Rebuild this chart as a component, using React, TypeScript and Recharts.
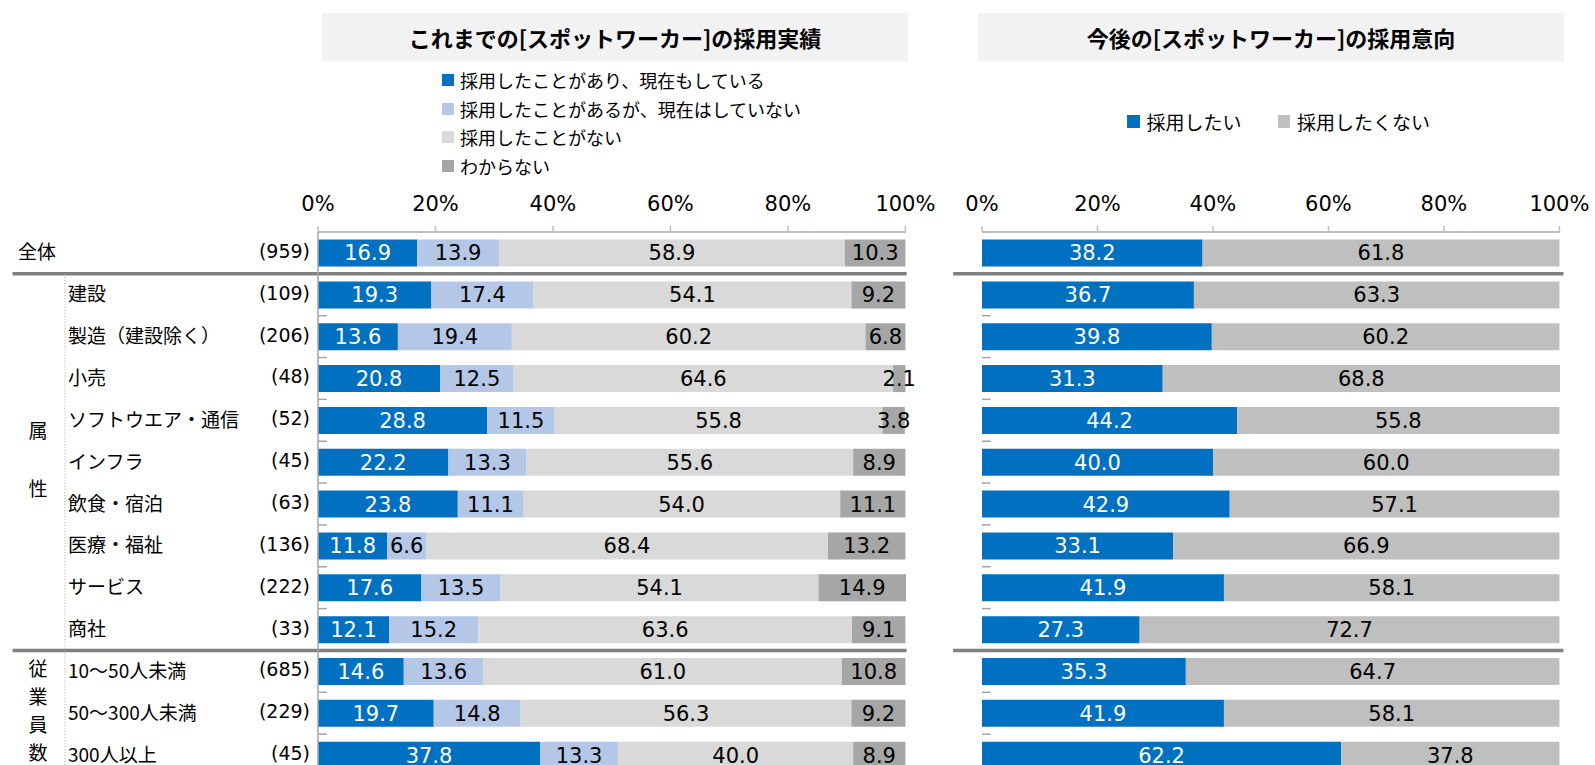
import React from 'react';
import { BarChart, Bar, XAxis, YAxis, LabelList, Legend, ReferenceLine } from 'recharts';

const categories = [
  '全体',
  '建設',
  '製造（建設除く）',
  '小売',
  'ソフトウエア・通信',
  'インフラ',
  '飲食・宿泊',
  '医療・福祉',
  'サービス',
  '商社',
  '10～50人未満',
  '50～300人未満',
  '300人以上',
];
const sampleSizes = [959, 109, 206, 48, 52, 45, 63, 136, 222, 33, 685, 229, 45];

// これまでの採用実績
const hiredNow = [16.9, 19.3, 13.6, 20.8, 28.8, 22.2, 23.8, 11.8, 17.6, 12.1, 14.6, 19.7, 37.8];
const hiredBefore = [13.9, 17.4, 19.4, 12.5, 11.5, 13.3, 11.1, 6.6, 13.5, 15.2, 13.6, 14.8, 13.3];
const neverHired = [58.9, 54.1, 60.2, 64.6, 55.8, 55.6, 54.0, 68.4, 54.1, 63.6, 61.0, 56.3, 40.0];
const unknown = [10.3, 9.2, 6.8, 2.1, 3.8, 8.9, 11.1, 13.2, 14.9, 9.1, 10.8, 9.2, 8.9];

// 今後の採用意向
const wantHire = [38.2, 36.7, 39.8, 31.3, 44.2, 40.0, 42.9, 33.1, 41.9, 27.3, 35.3, 41.9, 62.2];
const notWantHire = [61.8, 63.3, 60.2, 68.8, 55.8, 60.0, 57.1, 66.9, 58.1, 72.7, 64.7, 58.1, 37.8];

const pctTicks = [0, 20, 40, 60, 80, 100];
const sectionStarts = ['建設', '10～50人未満'];
const attrChars = ['属', '性'];
const sizeChars = ['従', '業', '員', '数'];

const leftSeries = [
  { key: 'now', name: '採用したことがあり、現在もしている', color: '#0070c0', text: '#ffffff' },
  { key: 'past', name: '採用したことがあるが、現在はしていない', color: '#b4c7e7', text: '#000000' },
  { key: 'never', name: '採用したことがない', color: '#d9d9d9', text: '#000000' },
  { key: 'unknown', name: 'わからない', color: '#a6a6a6', text: '#000000' },
];
const rightSeries = [
  { key: 'want', name: '採用したい', color: '#0070c0', text: '#ffffff' },
  { key: 'notWant', name: '採用したくない', color: '#bfbfbf', text: '#000000' },
];

const rows = categories.map((name, i) => ({
  name,
  now: hiredNow[i],
  past: hiredBefore[i],
  never: neverHired[i],
  unknown: unknown[i],
  want: wantHire[i],
  notWant: notWantHire[i],
}));

const JP = "'Noto Sans CJK JP', sans-serif";
const NUM = "'DejaVu Sans', Verdana, sans-serif";

const CHART_H = 780;
const MARGIN = { top: 192, bottom: 4 };
const AXIS_H = 40;
const ROW_H = (CHART_H - MARGIN.top - MARGIN.bottom - AXIS_H) / categories.length;

const fmt = (v: any) => Number(v).toFixed(1);

const PctTick = ({ x, y, payload }: any) => (
  <text x={x} y={y} dy={-13} textAnchor="middle" fontFamily={NUM} fontSize={21} fill="#000">
    {payload.value}%
  </text>
);

const LeftTick = ({ y, payload }: any) => {
  const i = categories.indexOf(payload.value);
  return (
    <g>
      <text x={i === 0 ? 18 : 68} y={y} dy={-2} dominantBaseline="central" fontFamily={JP} fontSize={19} fill="#000">
        {payload.value}
      </text>
      <text x={310} y={y} dy={-2} textAnchor="end" dominantBaseline="central" fontFamily={NUM} fontSize={19} fill="#000">
        ({sampleSizes[i]})
      </text>
      {i > 0 && (
        <line x1={65} x2={65} y1={y - ROW_H / 2} y2={y + ROW_H / 2} stroke="#a6a6a6" strokeDasharray="1 2" />
      )}
      {i === 5 &&
        attrChars.map((c, k) => (
          <text key={c} x={38} y={y - 33 + k * 58} textAnchor="middle" dominantBaseline="central" fontFamily={JP} fontSize={19} fill="#000">
            {c}
          </text>
        ))}
      {i === 11 &&
        sizeChars.map((c, k) => (
          <text key={c} x={38} y={y - 46 + k * 28} textAnchor="middle" dominantBaseline="central" fontFamily={JP} fontSize={19} fill="#000">
            {c}
          </text>
        ))}
    </g>
  );
};

const LeftLegend = () => (
  <div style={{ fontFamily: JP, fontSize: 18, color: '#000' }}>
    {leftSeries.map((s) => (
      <div key={s.key} style={{ display: 'flex', alignItems: 'center', height: 28.5 }}>
        <span style={{ width: 12, height: 12, background: s.color, marginRight: 6 }} />
        <span>{s.name}</span>
      </div>
    ))}
  </div>
);

const RightLegend = () => (
  <div style={{ display: 'flex', alignItems: 'center', fontFamily: JP, fontSize: 19, color: '#000' }}>
    {rightSeries.map((s) => (
      <div key={s.key} style={{ display: 'flex', alignItems: 'center', marginRight: 36 }}>
        <span style={{ width: 12.5, height: 12.5, background: s.color, marginRight: 7 }} />
        <span>{s.name}</span>
      </div>
    ))}
  </div>
);

const titleStyle: React.CSSProperties = {
  position: 'absolute',
  top: 13,
  height: 48,
  background: '#f2f2f2',
  display: 'flex',
  alignItems: 'center',
  justifyContent: 'center',
  fontFamily: JP,
  fontWeight: 700,
  fontSize: 22,
  color: '#000',
};

export default function App() {
  return (
    <div style={{ position: 'absolute', left: 0, top: 0, width: 1595, height: 765, overflow: 'hidden', background: '#fff' }}>
      <div style={{ ...titleStyle, left: 322, width: 586 }}>これまでの[スポットワーカー]の採用実績</div>
      <div style={{ ...titleStyle, left: 978, width: 586 }}>今後の[スポットワーカー]の採用意向</div>

      <div style={{ position: 'absolute', left: 0, top: 0 }}>
        <BarChart
          width={945}
          height={CHART_H}
          data={rows}
          layout="vertical"
          barCategoryGap="18%"
          margin={{ top: MARGIN.top, right: 39, bottom: MARGIN.bottom, left: 0 }}
        >
          <XAxis
            type="number"
            orientation="top"
            domain={[0, 100]}
            ticks={pctTicks}
            height={AXIS_H}
            axisLine={{ stroke: '#bfbfbf', strokeWidth: 2 }}
            tickLine={{ stroke: '#bfbfbf', strokeWidth: 1.5 }}
            tick={<PctTick />}
            interval={0}
          />
          <YAxis
            type="category"
            dataKey="name"
            width={318}
            axisLine={{ stroke: '#a6a6a6', strokeWidth: 1.5 }}
            tickLine={false}
            tick={<LeftTick />}
            interval={0}
          />
          <Legend
            layout="horizontal"
            verticalAlign="middle"
            align="center"
            content={<LeftLegend />}
            wrapperStyle={{ position: 'absolute', left: 442, top: 66, width: 420, height: 120 }}
          />
          {leftSeries.map((s) => (
            <Bar key={s.key} dataKey={s.key} name={s.name} stackId="a" fill={s.color} isAnimationActive={false}>
              <LabelList dataKey={s.key} position="center" formatter={fmt} fill={s.text} fontFamily={NUM} fontSize={21} />
            </Bar>
          ))}
          {categories.map((c) => (
            <ReferenceLine
              key={'t' + c}
              segment={[{ x: 0, y: c }, { x: 1.5, y: c }]}
              position="start"
              ifOverflow="visible"
              stroke="#a6a6a6"
              strokeWidth={1.5}
            />
          ))}
          {sectionStarts.map((c) => (
            <ReferenceLine
              key={'s' + c}
              segment={[{ x: -52, y: c }, { x: 100.2, y: c }]}
              position="start"
              ifOverflow="visible"
              stroke="#808080"
              strokeWidth={3.5}
            />
          ))}
        </BarChart>
      </div>

      <div style={{ position: 'absolute', left: 940, top: 0 }}>
        <BarChart
          width={655}
          height={CHART_H}
          data={rows}
          layout="vertical"
          barCategoryGap="18%"
          margin={{ top: MARGIN.top, right: 35, bottom: MARGIN.bottom, left: 42 }}
        >
          <XAxis
            type="number"
            orientation="top"
            domain={[0, 100]}
            ticks={pctTicks}
            height={AXIS_H}
            axisLine={{ stroke: '#bfbfbf', strokeWidth: 2 }}
            tickLine={{ stroke: '#bfbfbf', strokeWidth: 1.5 }}
            tick={<PctTick />}
            interval={0}
          />
          <YAxis
            type="category"
            dataKey="name"
            width={0}
            axisLine={{ stroke: '#a6a6a6', strokeWidth: 1.5 }}
            tickLine={false}
            tick={false}
          />
          <Legend
            layout="horizontal"
            verticalAlign="middle"
            align="center"
            content={<RightLegend />}
            wrapperStyle={{ position: 'absolute', left: 187, top: 108, width: 400, height: 26 }}
          />
          {rightSeries.map((s) => (
            <Bar key={s.key} dataKey={s.key} name={s.name} stackId="b" fill={s.color} isAnimationActive={false}>
              <LabelList dataKey={s.key} position="center" formatter={fmt} fill={s.text} fontFamily={NUM} fontSize={21} />
            </Bar>
          ))}
          {categories.map((c) => (
            <ReferenceLine
              key={'t' + c}
              segment={[{ x: 0, y: c }, { x: 1.5, y: c }]}
              position="start"
              ifOverflow="visible"
              stroke="#a6a6a6"
              strokeWidth={1.5}
            />
          ))}
          {sectionStarts.map((c) => (
            <ReferenceLine
              key={'s' + c}
              segment={[{ x: -5, y: c }, { x: 100.7, y: c }]}
              position="start"
              ifOverflow="visible"
              stroke="#808080"
              strokeWidth={3.5}
            />
          ))}
        </BarChart>
      </div>
    </div>
  );
}
